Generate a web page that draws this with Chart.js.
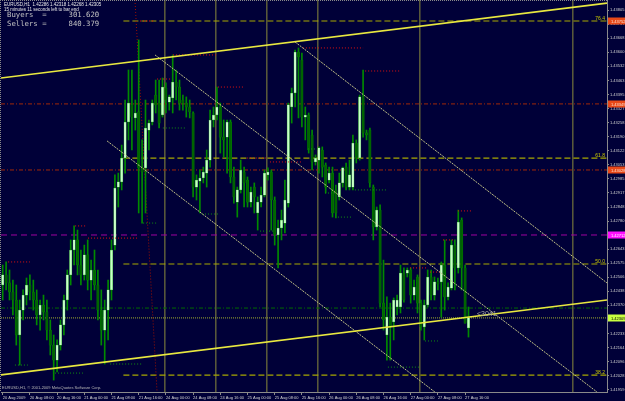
<!DOCTYPE html>
<html><head><meta charset="utf-8">
<script src="https://cdn.jsdelivr.net/npm/chart.js@4.4.1/dist/chart.umd.min.js"></script>
<style>html,body{margin:0;padding:0;background:#000038;overflow:hidden}#wrap{width:625px;height:401px}</style>
</head><body><div id="wrap"><canvas id="c" width="625" height="401"></canvas></div>
<script>
// ---- candle data (EURUSD H1, bar 0 = 20 Aug 2009 00:00) ----
const opens=[1.42469,1.42518,1.42479,1.42435,1.42396,1.42226,1.42347,1.42420,1.42469,1.42435,1.42396,1.42323,1.42372,1.42338,1.42250,1.42177,1.42104,1.42177,1.42275,1.42396,1.42518,1.42639,1.42688,1.42566,1.42518,1.42615,1.42493,1.42542,1.42469,1.42347,1.42250,1.42347,1.42445,1.42663,1.42945,1.42970,1.43086,1.43261,1.43344,1.43281,1.43310,1.43038,1.43038,1.43222,1.43261,1.43392,1.43353,1.43295,1.43426,1.43358,1.43378,1.43455,1.43431,1.43368,1.43353,1.43334,1.43305,1.42945,1.42974,1.42989,1.43013,1.43076,1.43271,1.43295,1.43334,1.43188,1.43188,1.43261,1.42994,1.42872,1.42931,1.43018,1.42979,1.42872,1.42945,1.42819,1.42872,1.42906,1.43004,1.43018,1.42882,1.42712,1.42746,1.42770,1.42867,1.43334,1.43402,1.43601,1.43562,1.43285,1.43295,1.43198,1.43067,1.43076,1.43125,1.43052,1.42979,1.43013,1.42931,1.42897,1.42965,1.43042,1.42945,1.42945,1.43159,1.43086,1.43383,1.43208,1.43222,1.42945,1.42751,1.42833,1.42381,1.42226,1.42313,1.42289,1.42362,1.42362,1.42527,1.42527,1.42542,1.42420,1.42508,1.42381,1.42265,1.42372,1.42508,1.42420,1.42484,1.42484,1.42566,1.42411,1.42454,1.42663,1.42552,1.42785,1.42552,1.42260];
const highs=[1.42566,1.42581,1.42542,1.42493,1.42469,1.42396,1.42445,1.42503,1.42518,1.42493,1.42445,1.42396,1.42420,1.42396,1.42299,1.42226,1.42202,1.42299,1.42420,1.42542,1.42688,1.42756,1.42736,1.42639,1.42663,1.42688,1.42590,1.42639,1.42542,1.42445,1.42396,1.42493,1.42688,1.43004,1.43013,1.43149,1.43368,1.43514,1.43514,1.43368,1.43660,1.43174,1.43368,1.43271,1.43368,1.43465,1.43465,1.43475,1.43451,1.43392,1.43587,1.43514,1.43465,1.43392,1.43383,1.43368,1.43310,1.43004,1.43028,1.43042,1.43125,1.43319,1.43334,1.43431,1.43353,1.43271,1.43271,1.43271,1.43042,1.42945,1.43076,1.43042,1.42994,1.42945,1.42965,1.42897,1.42945,1.43028,1.43038,1.43028,1.42897,1.42785,1.42833,1.42979,1.43353,1.43426,1.43611,1.43621,1.43596,1.43334,1.43305,1.43222,1.43101,1.43140,1.43140,1.43062,1.43042,1.43042,1.42955,1.43013,1.43042,1.43062,1.43076,1.43198,1.43174,1.43392,1.43514,1.43222,1.43232,1.42955,1.42848,1.42858,1.42590,1.42411,1.42381,1.42406,1.42420,1.42566,1.42552,1.42552,1.42552,1.42493,1.42518,1.42396,1.42396,1.42542,1.42542,1.42508,1.42503,1.42581,1.42688,1.42479,1.42688,1.42688,1.42833,1.42795,1.42566,1.42362];
const lows=[1.42396,1.42445,1.42396,1.42323,1.42177,1.42080,1.42299,1.42372,1.42396,1.42347,1.42275,1.42250,1.42299,1.42202,1.42129,1.42007,1.42046,1.42153,1.42226,1.42347,1.42469,1.42566,1.42518,1.42469,1.42493,1.42445,1.42396,1.42445,1.42299,1.42177,1.42085,1.42202,1.42396,1.42639,1.42848,1.42931,1.43013,1.43174,1.43125,1.43222,1.42819,1.42770,1.42819,1.43125,1.43247,1.43305,1.43232,1.43285,1.43305,1.43319,1.43305,1.43368,1.43319,1.43319,1.43285,1.43281,1.42897,1.42882,1.42819,1.42965,1.42945,1.43042,1.43237,1.43271,1.43110,1.43091,1.43013,1.42965,1.42867,1.42799,1.42916,1.42848,1.42848,1.42848,1.42819,1.42736,1.42848,1.42897,1.42979,1.42736,1.42663,1.42552,1.42688,1.42722,1.42848,1.43256,1.43334,1.43281,1.43237,1.43174,1.43110,1.43028,1.43052,1.43013,1.42994,1.42916,1.42965,1.42799,1.42795,1.42882,1.42945,1.42931,1.42931,1.42931,1.43062,1.43076,1.43188,1.43174,1.42945,1.42688,1.42736,1.42362,1.42250,1.42104,1.42104,1.42202,1.42323,1.42333,1.42386,1.42508,1.42381,1.42396,1.42333,1.42250,1.42202,1.42362,1.42396,1.42396,1.42445,1.42313,1.42347,1.42396,1.42445,1.42445,1.42527,1.42445,1.42284,1.42216];
const closes=[1.42518,1.42479,1.42435,1.42396,1.42226,1.42347,1.42420,1.42469,1.42435,1.42396,1.42323,1.42372,1.42338,1.42250,1.42177,1.42104,1.42177,1.42275,1.42396,1.42518,1.42639,1.42688,1.42566,1.42518,1.42615,1.42493,1.42542,1.42469,1.42347,1.42250,1.42347,1.42445,1.42639,1.42940,1.42970,1.43086,1.43261,1.43353,1.43285,1.43305,1.43038,1.43018,1.43232,1.43256,1.43353,1.43344,1.43256,1.43431,1.43368,1.43383,1.43455,1.43431,1.43353,1.43353,1.43334,1.43310,1.42945,1.42979,1.42989,1.43018,1.43076,1.43271,1.43295,1.43334,1.43188,1.43174,1.43261,1.42994,1.42897,1.42931,1.43028,1.42965,1.42872,1.42921,1.42897,1.42872,1.42906,1.43013,1.43018,1.42882,1.42712,1.42746,1.42785,1.42882,1.43344,1.43402,1.43601,1.43577,1.43285,1.43295,1.43125,1.43067,1.43086,1.43135,1.43042,1.42945,1.43013,1.42819,1.42819,1.42965,1.43038,1.42945,1.43004,1.43159,1.43086,1.43383,1.43208,1.43198,1.42965,1.42751,1.42833,1.42381,1.42299,1.42313,1.42265,1.42396,1.42396,1.42527,1.42396,1.42542,1.42420,1.42459,1.42381,1.42265,1.42372,1.42508,1.42420,1.42484,1.42474,1.42566,1.42411,1.42459,1.42663,1.42552,1.42775,1.42552,1.42284,1.42309];

// ---- axes ----
const xTickBars=[0,8,16,24,32,40,48,56,64,72,80,88,96,104,112,120,128,136];
const xTickLabels=['20 Aug 2009','20 Aug 08:00','20 Aug 16:00','21 Aug 00:00','21 Aug 08:00','21 Aug 16:00','24 Aug 00:00','24 Aug 08:00','24 Aug 16:00','25 Aug 00:00','25 Aug 08:00','25 Aug 16:00','26 Aug 00:00','26 Aug 08:00','26 Aug 16:00','27 Aug 00:00','27 Aug 08:00','27 Aug 16:00'];
const yTicks=[1.43805,1.43737,1.43668,1.43600,1.43532,1.43463,1.43395,1.43327,1.43258,1.43190,1.43122,1.43053,1.42985,1.42917,1.42848,1.42780,1.42711,1.42643,1.42575,1.42506,1.42438,1.42370,1.42301,1.42233,1.42164,1.42096,1.42028,1.41959];
const xMin=-0.5, xMax=177.74, yMin=1.41949, yMax=1.43854;

// ---- objects ----
const fibPrices=[1.43752,1.43086,1.42571,1.42031];
const fibNames=['76.4','61.8','50.0','38.2'];
const fibFromBar=35.5;
const redLevels=[1.43349,1.43028];
const magentaLevel=1.42712;
const greenLevel=1.42357;
const bidLevel=1.42309;
const boxPrices=[1.43752,1.43349,1.43028,1.42712,1.42309];
const upperLineX=[-0.5,177.74], upperLineY=[1.43475,1.43839];
const lowerLineX=[-0.5,177.74], lowerLineY=[1.42032,1.42396];
const descAX=[30.7,127.1], descAY=[1.43169,1.41949];
const descBX=[44.8,174.8], descBY=[1.43587,1.41949];
const descCX=[86.0,177.74], descCY=[1.43650,1.42479];
const vLineBars=[47.7,62.7,77.7,92.7,122.7,167.7];
const redVertX=[38.9,45.4], redVertY=[1.43854,1.41949];
const redMarkFrom=[1.6,21.3,25.1,40.4,45.4,50.1,63.3,71.9,78.6,88.3,106.6,119.8,125.7,129.5,133.9];
const redMarkTo=[8.0,24.8,39.5,44.8,49.8,63.0,70.7,77.7,88.0,106,116.9,124.8,128.6,133,138];
const redMarkPrice=[1.42581,1.42756,1.42697,1.43752,1.43470,1.43587,1.43431,1.43086,1.43067,1.43621,1.43509,1.42552,1.42532,1.42688,1.42829];
const greenMarkFrom=[3.6,15.4,31.6,41.3,47.1,58.6,75.7,89.8,94.8,98.6,103.6,113.3,124.2];
const greenMarkTo=[7.4,23.6,41,45.7,53.6,63.9,80.1,92.7,97.7,102.7,113,122.7,128];
const greenMarkPrice=[1.42080,1.42041,1.42085,1.42770,1.43232,1.42814,1.42731,1.43130,1.42916,1.42799,1.42931,1.42070,1.42197];

const BG='#000038';
const ds=[];
function seg(xs,ys,color,width,dash,order){
  ds.push({type:'line',data:[{x:xs[0],y:ys[0]},{x:xs[1],y:ys[1]}],borderColor:color,borderWidth:width,borderDash:dash||[],pointRadius:0,fill:false,order:order,tension:0});
}
// background levels
vLineBars.forEach(b=>seg([b,b],[yMin,yMax],'#8c8c3c',1,[],20));
fibPrices.forEach(p=>seg([fibFromBar,xMax],[p,p],'#a8a800',1.2,[6,3],19));
redLevels.forEach(p=>seg([xMin,xMax],[p,p],'#a02808',1,[4,2,1,2],19));
seg([xMin,xMax],[magentaLevel,magentaLevel],'#a000a0',1,[6,4],19);
seg([xMin,xMax],[greenLevel,greenLevel],'#006a00',1,[4,2,1,2],19);
seg([xMin,xMax],[bidLevel,bidLevel],'#a0b030',1,[1,1],19);
seg(redVertX,redVertY,'#a01000',1,[1,2],18);
// candles
const idx=opens.map((_,i)=>i);
ds.push({type:'bar',data:idx.map(i=>({x:i,y:[lows[i],highs[i]]})),backgroundColor:'#008a00',barThickness:1,grouped:false,order:6});
ds.push({type:'bar',data:idx.map(i=>({x:i,y:[opens[i],closes[i]]})),
  backgroundColor:idx.map(i=>closes[i]>=opens[i]?'#c8ffc8':'#006400'),
  borderColor:idx.map(i=>closes[i]>=opens[i]?'#40b040':'#008000'),borderWidth:0.5,borderSkipped:false,
  barThickness:2.4,grouped:false,minBarLength:1,order:5});
// markers
redMarkFrom.forEach((f,k)=>seg([f,redMarkTo[k]],[redMarkPrice[k],redMarkPrice[k]],'#e01010',1,[1,2],3));
greenMarkFrom.forEach((f,k)=>seg([f,greenMarkTo[k]],[greenMarkPrice[k],greenMarkPrice[k]],'#109010',1,[1,2],3));
// trend lines
seg(descAX,descAY,'#c4c488',1,[2,1],2);
seg(descBX,descBY,'#c4c488',1,[2,1],2);
seg(descCX,descCY,'#c4c488',1,[2,1],2);
seg(upperLineX,upperLineY,'#e8e840',1.6,[],1);
seg(lowerLineX,lowerLineY,'#e8e840',1.6,[],1);

const overlay={
  id:'overlay',
  beforeDraw(chart){const c=chart.ctx;c.save();c.fillStyle=BG;c.fillRect(0,0,chart.width,chart.height);c.restore();},
  afterDraw(chart){
    const c=chart.ctx,a=chart.chartArea,y=chart.scales.y,x=chart.scales.x;
    c.save();
    c.strokeStyle='#8a8a8a';c.lineWidth=1;c.setLineDash([1,1]);
    c.beginPath();c.moveTo(0,0.5);c.lineTo(a.right,0.5);c.moveTo(0.5,0);c.lineTo(0.5,a.bottom);c.stroke();
    c.setLineDash([]);
    c.font='5px "Liberation Sans"';c.fillStyle='#c8c800';c.textAlign='right';c.textBaseline='bottom';
    fibPrices.forEach((p,k)=>c.fillText(fibNames[k],a.right-2,y.getPixelForValue(p)));
    const boxCol=['#e84818','#e84818','#e84818','#ff10ff','#c8ff40'];
    const txtCol=['#ffe0d0','#ffe0d0','#ffe0d0','#ffffff','#000000'];
    c.font='4px "Liberation Sans"';c.textAlign='left';c.textBaseline='middle';
    boxPrices.forEach((p,k)=>{const py=Math.round(y.getPixelForValue(p));c.fillStyle=boxCol[k];c.fillRect(a.right+1,py-3.5,chart.width-a.right-1,7);c.fillStyle=txtCol[k];c.fillText(p.toFixed(5),a.right+4,py+0.5);});
    c.fillStyle='#a8a8a8';c.font='7px "Liberation Sans"';c.textAlign='left';c.textBaseline='alphabetic';
    c.fillText('<3041',x.getPixelForValue(139.5),y.getPixelForValue(bidLevel)-2);
    c.fillStyle='#e8e8e8';c.font='4.5px "Liberation Sans"';
    c.fillText('EURUSD,H1  1.42286 1.42318 1.42268 1.42305',4,6);
    c.fillText('15 minutes 11 seconds left to bar end',4,10.5);
    c.fillStyle='#c4c4c4';c.font='7.3px "DejaVu Sans Mono"';
    c.fillText('Buyers  =     301.620',7,17);
    c.fillText('Sellers =     840.379',7,26);
    c.fillStyle='#b8b8b8';c.font='4px "Liberation Sans"';
    c.fillText('EURUSD,H1, \u00a9 2001-2009 MetaQuotes Software Corp.',2,389);
    c.restore();
  }
};

new Chart(document.getElementById('c'),{
  type:'bar',
  data:{datasets:ds},
  options:{
    responsive:false,animation:false,devicePixelRatio:1,
    layout:{padding:{left:1,top:0,right:0,bottom:0}},
    plugins:{legend:{display:false},tooltip:{enabled:false}},
    scales:{
      x:{type:'linear',min:xMin,max:xMax,offset:false,
        grid:{offset:false,drawOnChartArea:false,color:'#8a8a8a',tickLength:3},
        border:{color:'#8a8a8a'},
        afterBuildTicks:s=>{s.ticks=xTickBars.map(v=>({value:v}));},
        afterFit:s=>{s.height=9;s.paddingLeft=0;s.paddingRight=0;},
        ticks:{autoSkip:false,maxRotation:0,minRotation:0,align:'start',padding:0,color:'#d0d0d0',font:{size:4,family:'Liberation Sans'},
          callback:(v,i)=>xTickLabels[i]}},
      y:{type:'linear',position:'right',min:yMin,max:yMax,
        grid:{drawOnChartArea:false,color:'#8a8a8a',tickLength:2},
        border:{color:'#8a8a8a'},
        afterBuildTicks:s=>{s.ticks=yTicks.map(v=>({value:v}));},
        afterFit:s=>{s.width=18;s.paddingTop=0;s.paddingBottom=0;},
        ticks:{padding:1,color:'#d0d0d0',font:{size:4,family:'Liberation Sans'},callback:v=>v.toFixed(5)}}
    }
  },
  plugins:[overlay]
});
</script></body></html>
